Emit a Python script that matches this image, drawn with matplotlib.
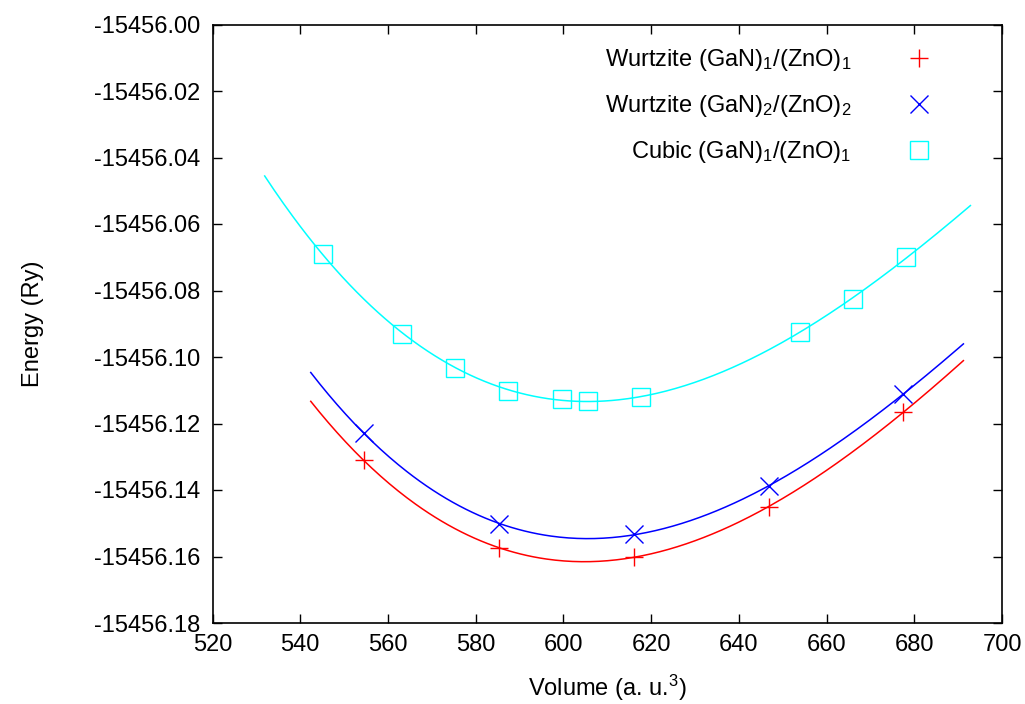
import numpy as np
import matplotlib
matplotlib.use("Agg")
import matplotlib.pyplot as plt

plt.rcParams['font.family'] = ['Liberation Sans', 'DejaVu Sans']
plt.rcParams['mathtext.fontset'] = 'custom'
plt.rcParams['mathtext.rm'] = 'Liberation Sans'
plt.rcParams['mathtext.it'] = 'Liberation Sans'
plt.rcParams['mathtext.default'] = 'regular'

E0 = -15456.0

# Wurtzite (GaN)1/(ZnO)1
v_w1 = [554.5, 585.4, 616.0, 646.9, 677.5]
e_w1 = [-0.1311, -0.1575, -0.1601, -0.1450, -0.1166]
# Wurtzite (GaN)2/(ZnO)2
v_w2 = [554.5, 585.4, 616.0, 646.9, 677.5]
e_w2 = [-0.1229, -0.1502, -0.1533, -0.1388, -0.1111]
# Cubic (GaN)1/(ZnO)1
v_c1 = [545.1, 563.3, 575.4, 587.4, 599.6, 605.6, 617.7, 653.9, 666.1, 678.2]
e_c1 = [-0.0690, -0.0930, -0.1032, -0.1102, -0.1127, -0.1131, -0.1120, -0.0924, -0.0826, -0.0699]

# fitted-curve ranges
fit_range_w1 = (542.4, 691.2)
fit_range_w2 = (542.4, 691.2)
fit_range_c1 = (531.9, 692.8)

labels = [r'Wurtzite (GaN)$_1$/(ZnO)$_1$',
          r'Wurtzite (GaN)$_2$/(ZnO)$_2$',
          r'Cubic (GaN)$_1$/(ZnO)$_1$']
colors = ['#ff0000', '#0000ff', '#00ffff']
markers = ['+', 'x', 's']

xticks = np.arange(520, 701, 20)
yticks = np.arange(-0.18, 0.001, 0.02)

FS = 17

fig = plt.figure(figsize=(10.25, 7.04), dpi=100)
ax = fig.add_axes([212.5/1025, 1-623/704, (1002-212.5)/1025, (623-24.5)/704])

series = [(v_w1, e_w1, fit_range_w1), (v_w2, e_w2, fit_range_w2), (v_c1, e_c1, fit_range_c1)]
handles = []
for (v, e, rng), c, m, lab in zip(series, colors, markers, labels):
    v = np.array(v); e = E0 + np.array(e)
    coef = np.polyfit(v - 600, e - E0, 3)
    vv = np.linspace(rng[0], rng[1], 300)
    ax.plot(vv, E0 + np.polyval(coef, vv - 600), color=c, lw=1.1, zorder=2)
    if m == 's':
        h, = ax.plot(v, e, linestyle='none', marker=m, ms=13.5, mfc='none', mec=c, mew=1.0, label=lab, zorder=3)
    else:
        h, = ax.plot(v, e, linestyle='none', marker=m, ms=13.5, color=c, mew=1.0, label=lab, zorder=3)
    handles.append(h)

ax.set_xlim(520, 700)
ax.set_ylim(E0 - 0.18, E0)
ax.set_xticks(xticks)
ax.set_yticks(E0 + yticks)
ax.set_yticklabels(['%.2f' % (E0 + t) for t in yticks])
ax.tick_params(direction='in', length=6.5, width=1.0, top=True, right=True, labelsize=FS, colors='black')
ax.tick_params(axis='y', pad=9)
ax.tick_params(axis='x', pad=8)
for s in ax.spines.values():
    s.set_linewidth(1.2)
ax.set_xlabel('Volume (a. u.$^{3}$)', fontsize=FS)
ax.xaxis.set_label_coords(0.5, -(673 - 623) / (623 - 24.5))
ax.set_ylabel('Energy (Ry)', fontsize=FS)
ax.yaxis.set_label_coords(-(212.5 - 44) / (1002 - 212.5), 0.5)

fs_px = FS * 100 / 72
hl = 2.0
handle_right = 919.3 + hl * fs_px / 2
leg = ax.legend(handles=handles, loc='upper right', bbox_to_anchor=(handle_right/1025, 1-47/704),
                bbox_transform=fig.transFigure, frameon=False, markerfirst=False,
                fontsize=FS, handlelength=hl, handletextpad=(handle_right - hl*fs_px - 851)/fs_px,
                labelspacing=0.85, borderpad=0, borderaxespad=0)

fig.savefig('out.png', dpi=100)
